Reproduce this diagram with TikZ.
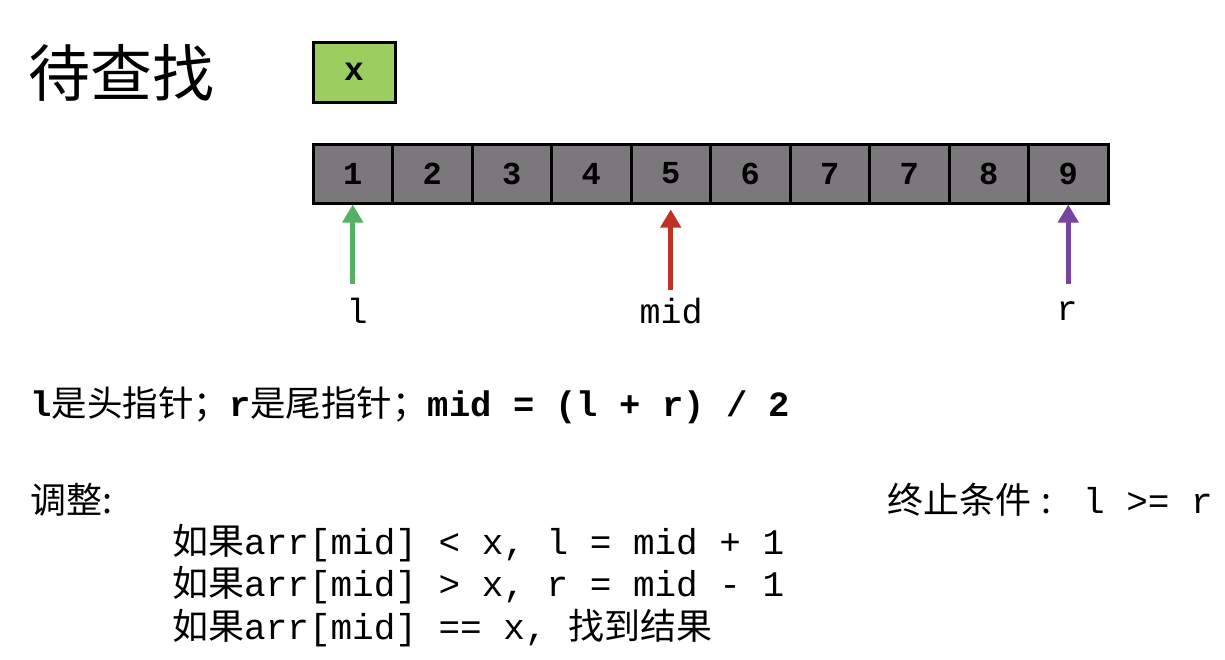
\documentclass[tikz,border=0pt]{standalone}
\usepackage{fontspec}
\setmainfont{Liberation Serif}
\setmonofont{Liberation Mono}
\newfontfamily\cjk{Noto Sans CJK SC}
\usetikzlibrary{arrows.meta}
\definecolor{cellgray}{RGB}{122,120,122}
\definecolor{xgreen}{RGB}{155,205,95}
\definecolor{pgreen}{RGB}{85,178,100}
\definecolor{pred}{RGB}{190,50,38}
\definecolor{ppurple}{RGB}{120,68,160}
\newcommand\fs[1]{\fontsize{#1}{#1}\selectfont}
\begin{document}
\begin{tikzpicture}[x=1pt,y=-1pt,
  cell/.style={draw=black, line width=3pt, fill=cellgray, minimum width=79.5pt,
    minimum height=59pt, inner sep=0pt, font=\fs{32}\ttfamily\bfseries},
  ptr/.style={line width=5pt, -{Triangle[width=20pt,length=18pt]}},
  lbl/.style={inner sep=0pt, font=\fs{35}\ttfamily},
  txt/.style={inner sep=0pt, anchor=west, font=\fs{36}\ttfamily}]
\useasboundingbox[fill=white] (0,0) rectangle (1225,659);

\node[inner sep=0pt, anchor=west, font=\fs{62}\cjk] (title) at (28,73) {待查找};
\node[draw=black, line width=3pt, fill=xgreen, minimum width=82pt, minimum height=60pt,
  inner sep=0pt, font=\fs{33}\ttfamily\bfseries] (xbox) at (354,72) {x};

\foreach \v [count=\i from 0] in {1,2,3,4,5,6,7,7,8,9}
  \node[cell] (c\i) at (352.75+79.5*\i,173.5) {\v};

\coordinate (tL) at ([yshift=-79pt]c0.south);
\coordinate (tM) at ([yshift=-85pt]c4.south);
\coordinate (tR) at ([yshift=-79pt]c9.south);
\draw[ptr,pgreen] (tL) -- (c0.south);
\draw[ptr,pred,shorten >=5pt] (tM) -- (c4.south);
\draw[ptr,ppurple] (tR) -- (c9.south);

\node[lbl] (lL) at (357,311) {l};
\node[lbl] (lM) at (671,311) {mid};
\node[lbl] (lR) at (1067,311) {r};

\node[txt, font=\fs{35.5}\ttfamily] (desc) at (30,405) {\textbf{l}{\cjk 是头指针；}\textbf{r}{\cjk 是尾指针；}\textbf{mid = (l + r) / 2}};
\node[txt] (adj) at (30,500) {{\cjk 调整:}};
\node[txt, anchor=east] (stop) at (1213,500) {{\cjk 终止条件}\makebox[30pt]{\cjk :} l >= r};
\node[txt] (r1) at (172,543) {{\cjk 如果}arr[mid] < x, l = mid + 1};
\node[txt] (r2) at (172,585) {{\cjk 如果}arr[mid] > x, r = mid - 1};
\node[txt] (r3) at (172,628) {{\cjk 如果}arr[mid] == x, {\cjk 找到结果}};
\end{tikzpicture}
\end{document}
